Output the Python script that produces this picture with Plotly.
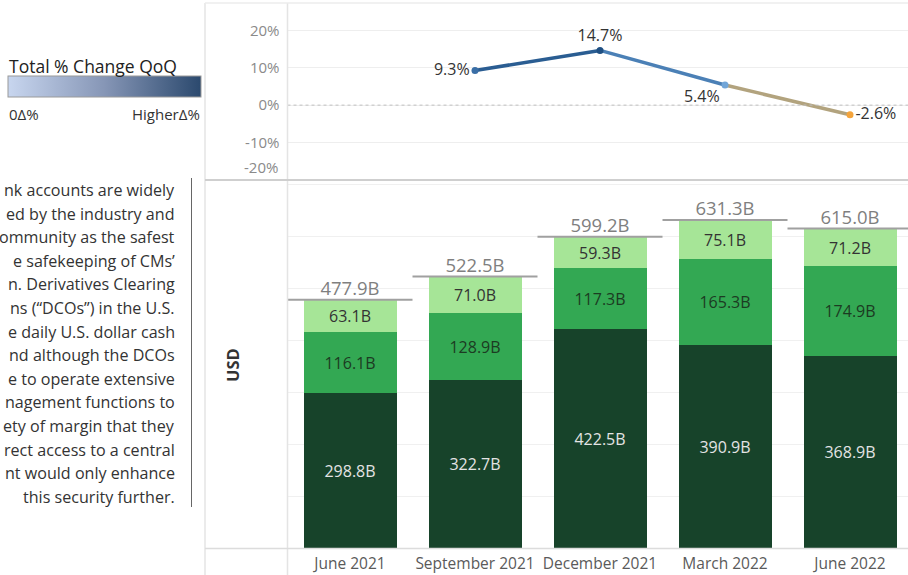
import plotly.graph_objects as go

# ---------------- data ----------------
categories = ["June 2021", "September 2021", "December 2021", "March 2022", "June 2022"]
dark_vals = [298.8, 322.7, 422.5, 390.9, 368.9]
mid_vals = [116.1, 128.9, 117.3, 165.3, 174.9]
light_vals = [63.1, 71.0, 59.3, 75.1, 71.2]
totals = [477.9, 522.5, 599.2, 631.3, 615.0]
qoq_pct = [None, 9.3, 14.7, 5.4, -2.6]
qoq_colors = [None, "#3a6ea6", "#1f4f82", "#72a6d8", "#f4a43c"]
seg_colors = ["#2a5d92", "#4b80b6", "#b2a37e"]
text_lines = [
    "nk accounts are widely",
    "ed by the industry and",
    "ommunity as the safest",
    "e safekeeping of CMs\u2019",
    "n. Derivatives Clearing",
    "ns (\u201cDCOs\u201d) in the U.S.",
    "e daily U.S. dollar cash",
    "nd although the DCOs",
    "e to operate extensive",
    "nagement functions to",
    "ety of margin that they",
    "rect access to a central",
    "nt would only enhance",
    "this security further.",
]

W, H = 908, 575
FONT = "Open Sans"


def px(p):
    return p / W


def py(p):
    return 1 - p / H


xi = list(range(len(categories)))
fig = go.Figure()

# ---------------- stacked bars ----------------
bar_specs = [
    (dark_vals, "#17432a", "#e4e4e4"),
    (mid_vals, "#33a853", "#1c3b22"),
    (light_vals, "#a6e597", "#333333"),
]
for vals, col, tcol in bar_specs:
    fig.add_trace(go.Bar(
        x=xi, y=vals, marker=dict(color=col, line=dict(width=0)), width=0.75,
        text=[f"{v:.1f}B" for v in vals], textposition="inside",
        insidetextanchor="middle", textangle=0,
        textfont=dict(family=FONT, size=16, color=tcol),
        xaxis="x", yaxis="y", showlegend=False, hoverinfo="skip",
    ))

# total reference lines
for i, t in zip(xi, totals):
    fig.add_trace(go.Scatter(
        x=[i - 0.5, i + 0.5], y=[t, t], mode="lines",
        line=dict(color="#a0a0a0", width=2), xaxis="x", yaxis="y",
        showlegend=False, hoverinfo="skip",
    ))
fig.add_trace(go.Scatter(
    x=xi, y=totals, mode="text", text=[f"{t:.1f}B" for t in totals],
    textposition="top center", textfont=dict(family=FONT, size=18.5, color="#7f7f7f"),
    xaxis="x", yaxis="y", showlegend=False, hoverinfo="skip",
))

# ---------------- QoQ line ----------------
line_x = [i for i, v in zip(xi, qoq_pct) if v is not None]
line_y = [v / 100 for v in qoq_pct if v is not None]
line_c = [c for c in qoq_colors if c is not None]
for k in range(len(line_x) - 1):
    fig.add_trace(go.Scatter(
        x=line_x[k:k + 2], y=line_y[k:k + 2], mode="lines",
        line=dict(color=seg_colors[k], width=3.5), xaxis="x2", yaxis="y2",
        showlegend=False, hoverinfo="skip",
    ))
fig.add_trace(go.Scatter(
    x=line_x, y=line_y, mode="markers+text",
    marker=dict(color=line_c, size=7),
    text=[f"{v:.1f}%" for v in qoq_pct if v is not None],
    textposition=["middle left", "top center", "bottom left", "middle right"],
    textfont=dict(family=FONT, size=16, color="#333333"),
    xaxis="x2", yaxis="y2", showlegend=False, hoverinfo="skip",
))
# colour legend (continuous)
fig.add_trace(go.Scatter(
    x=line_x, y=line_y, mode="markers",
    marker=dict(
        color=[v for v in qoq_pct if v is not None], cmin=0, cmax=max(v for v in qoq_pct if v is not None),
        colorscale=[[0, "#c8d6ef"], [0.5, "#8696b6"], [1, "#2b496e"]],
        opacity=0, size=1, showscale=True,
        colorbar=dict(
            orientation="h", x=px(8), xanchor="left", y=py(98), yanchor="bottom",
            len=193, lenmode="pixels", thickness=21, thicknessmode="pixels",
            outlinewidth=1, outlinecolor="#9a9a9a", showticklabels=False, ticks="",
            xpad=0, ypad=0,
        ),
    ),
    xaxis="x2", yaxis="y2", showlegend=False, hoverinfo="skip",
))

xrange = [-0.5, -0.5 + (W - 287.5) / 125]
axis_font = dict(family=FONT, size=15.5, color="#5a5a5a")

shapes = [
    # zero dotted line
    dict(type="line", xref="x2", yref="y2", x0=xrange[0], x1=xrange[1], y0=0, y1=0,
         line=dict(color="#c0c0c0", width=1, dash="dot")),
    # panel borders
    dict(type="line", xref="paper", yref="paper", x0=px(205), x1=px(205), y0=0, y1=py(3),
         line=dict(color="#e4e4e4", width=1.5)),
    dict(type="line", xref="paper", yref="paper", x0=px(287.5), x1=px(287.5), y0=0, y1=py(3),
         line=dict(color="#e4e4e4", width=1.5)),
    dict(type="line", xref="paper", yref="paper", x0=px(205), x1=1, y0=py(3), y1=py(3),
         line=dict(color="#ececec", width=1.5)),
    dict(type="line", xref="paper", yref="paper", x0=px(205), x1=1, y0=py(180), y1=py(180),
         line=dict(color="#cfcfcf", width=2)),
    dict(type="line", xref="paper", yref="paper", x0=px(205), x1=1, y0=py(548.5), y1=py(548.5),
         line=dict(color="#dcdcdc", width=1.5)),
    # text block divider
    dict(type="line", xref="paper", yref="paper", x0=px(191.5), x1=px(191.5), y0=py(178), y1=py(507),
         line=dict(color="#666666", width=1)),
]

annotations = [
    dict(text="Total % Change QoQ", x=px(7), y=py(66), xref="paper", yref="paper",
         xanchor="left", yanchor="middle", showarrow=False,
         font=dict(family=FONT, size=17.5, color="#222222")),
    dict(text="0\u0394%", x=px(7), y=py(114), xref="paper", yref="paper",
         xanchor="left", yanchor="middle", showarrow=False,
         font=dict(family=FONT, size=15, color="#333333")),
    dict(text="Higher\u0394%", x=px(202), y=py(114), xref="paper", yref="paper",
         xanchor="right", yanchor="middle", showarrow=False,
         font=dict(family=FONT, size=15, color="#333333")),
    dict(text="-20%", x=px(280), y=py(167), xref="paper", yref="paper",
         xanchor="right", yanchor="middle", showarrow=False,
         font=dict(family=FONT, size=15, color="#8a8a8a")),
    dict(text="<b>USD</b>", x=px(232), y=py(365), xref="paper", yref="paper",
         xanchor="center", yanchor="middle", showarrow=False, textangle=-90,
         font=dict(family=FONT, size=16.5, color="#333333")),
]
for k, ln in enumerate(text_lines):
    annotations.append(dict(
        text=ln, x=px(177), y=py(190 + k * 23.6), xref="paper", yref="paper",
        xanchor="right", yanchor="middle", showarrow=False,
        font=dict(family=FONT, size=16.1, color="#333333"),
    ))

fig.update_layout(
    width=W, height=H, margin=dict(l=0, r=0, t=0, b=0, pad=0),
    paper_bgcolor="white", plot_bgcolor="white",
    barmode="stack", bargap=0,
    font=dict(family=FONT),
    xaxis=dict(domain=[px(287.5), 1], range=xrange, tickvals=xi, ticktext=categories,
               showgrid=False, zeroline=False, showline=False, ticks="",
               tickfont=axis_font, ticklabelstandoff=4),
    yaxis=dict(domain=[py(548), py(182)], range=[0, (548 - 182) / 0.5195], dtick=100,
               showgrid=True, gridcolor="#f0f0f0", gridwidth=1, zeroline=False,
               showticklabels=False, showline=False),
    xaxis2=dict(domain=[px(287.5), 1], range=xrange, anchor="y2", showticklabels=False,
                showgrid=False, zeroline=False, showline=False, ticks=""),
    yaxis2=dict(domain=[py(180), py(3)], range=[-0.2013, 0.2745], anchor="x2",
                tickvals=[0.2, 0.1, 0, -0.1], ticktext=["20%", "10%", "0%", "-10%"],
                showgrid=True, gridcolor="#eeeeee", zeroline=False, showline=False,
                tickfont=dict(family=FONT, size=15, color="#8a8a8a"), ticklabelstandoff=7),
    shapes=shapes, annotations=annotations,
)

fig.write_html(
    "out.html",
    config={"displayModeBar": False},
    post_script="document.body.style.margin='0';document.body.style.overflow='hidden';",
)
